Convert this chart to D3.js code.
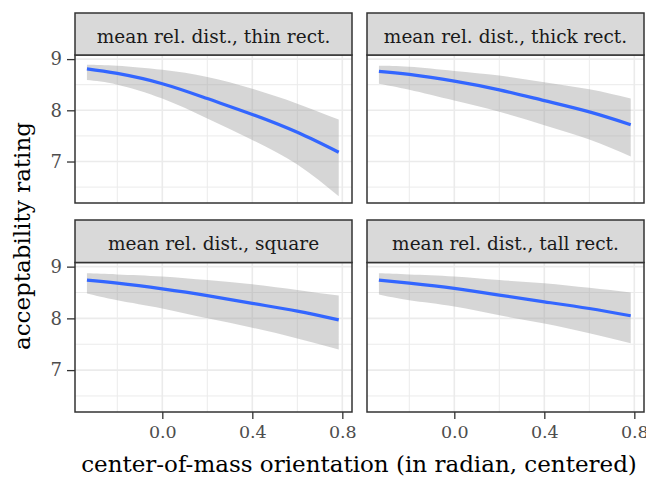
<!DOCTYPE html>
<html>
<head>
<meta charset="utf-8">
<script src="https://cdn.jsdelivr.net/npm/d3@7/dist/d3.min.js"></script>
<style>
  body { margin: 0; background: #fff; }
  svg { display: block; font-family: "DejaVu Serif", serif; }
</style>
</head>
<body>
<div id="viz"></div>
<script>
const orientation = [-0.335, -0.2, 0, 0.2, 0.4, 0.6, 0.784];

const facetTitles = [
  'mean rel. dist., thin rect.',
  'mean rel. dist., thick rect.',
  'mean rel. dist., square',
  'mean rel. dist., tall rect.'
];

const fitThin   = [8.81, 8.72, 8.52, 8.23, 7.92, 7.57, 7.18];
const lowThin   = [8.59, 8.50, 8.23, 7.84, 7.42, 6.94, 6.32];
const highThin  = [8.89, 8.87, 8.79, 8.65, 8.42, 8.13, 7.82];

const fitThick  = [8.76, 8.70, 8.57, 8.40, 8.19, 7.97, 7.72];
const lowThick  = [8.52, 8.40, 8.19, 7.97, 7.71, 7.43, 7.10];
const highThick = [8.87, 8.85, 8.77, 8.68, 8.55, 8.41, 8.23];

const fitSquare  = [8.74, 8.68, 8.57, 8.44, 8.29, 8.14, 7.97];
const lowSquare  = [8.48, 8.35, 8.19, 8.00, 7.82, 7.61, 7.40];
const highSquare = [8.87, 8.85, 8.81, 8.74, 8.66, 8.55, 8.44];

const fitTall  = [8.74, 8.68, 8.58, 8.45, 8.32, 8.19, 8.05];
const lowTall  = [8.46, 8.35, 8.23, 8.06, 7.90, 7.71, 7.52];
const highTall = [8.87, 8.85, 8.81, 8.74, 8.68, 8.59, 8.50];

const xTicks = [0, 0.4, 0.8];
const xMinor = [-0.2, 0.2, 0.6];
const yTicks = [7, 8, 9];
const yMinor = [6.5, 7.5, 8.5];

const series = [
  [fitThin, lowThin, highThin],
  [fitThick, lowThick, highThick],
  [fitSquare, lowSquare, highSquare],
  [fitTall, lowTall, highTall]
];

const width = 646, height = 479;
const cols = [[75, 352], [367, 644]];
const rows = [{ strip: 13, top: 55, bottom: 203 }, { strip: 220, top: 262.5, bottom: 412 }];

const svg = d3.select('#viz').append('svg')
  .attr('width', width)
  .attr('height', height);

facetTitles.forEach((title, i) => {
  const [x0, x1] = cols[i % 2];
  const row = rows[Math.floor(i / 2)];
  const [fit, low, high] = series[i];

  const x = d3.scaleLinear().domain([-0.388, 0.843]).range([x0, x1]);
  const y = d3.scaleLinear().domain([6.19, 9.08]).range([row.bottom, row.top]);

  const g = svg.append('g');

  // grid
  g.selectAll('.vminor').data(xMinor).join('line')
    .attr('x1', d => x(d)).attr('x2', d => x(d))
    .attr('y1', row.top).attr('y2', row.bottom)
    .attr('stroke', '#ebebeb').attr('stroke-width', 1);
  g.selectAll('.hminor').data(yMinor).join('line')
    .attr('y1', d => y(d)).attr('y2', d => y(d))
    .attr('x1', x0).attr('x2', x1)
    .attr('stroke', '#ebebeb').attr('stroke-width', 1);
  g.selectAll('.vmajor').data(xTicks).join('line')
    .attr('x1', d => x(d)).attr('x2', d => x(d))
    .attr('y1', row.top).attr('y2', row.bottom)
    .attr('stroke', '#ebebeb').attr('stroke-width', 1.6);
  g.selectAll('.hmajor').data(yTicks).join('line')
    .attr('y1', d => y(d)).attr('y2', d => y(d))
    .attr('x1', x0).attr('x2', x1)
    .attr('stroke', '#ebebeb').attr('stroke-width', 1.6);

  const pts = orientation.map((o, k) => ({ o, fit: fit[k], low: low[k], high: high[k] }));

  g.append('path')
    .datum(pts)
    .attr('fill', '#999999')
    .attr('fill-opacity', 0.4)
    .attr('d', d3.area()
      .curve(d3.curveNatural)
      .x(d => x(d.o))
      .y0(d => y(d.low))
      .y1(d => y(d.high)));

  g.append('path')
    .datum(pts)
    .attr('fill', 'none')
    .attr('stroke', '#3366FF')
    .attr('stroke-width', 3.2)
    .attr('d', d3.line()
      .curve(d3.curveNatural)
      .x(d => x(d.o))
      .y(d => y(d.fit)));

  // panel border
  g.append('rect')
    .attr('x', x0).attr('y', row.top)
    .attr('width', x1 - x0).attr('height', row.bottom - row.top)
    .attr('fill', 'none').attr('stroke', '#333').attr('stroke-width', 1.5);

  // strip
  g.append('rect')
    .attr('x', x0).attr('y', row.strip)
    .attr('width', x1 - x0).attr('height', row.top - row.strip)
    .attr('fill', '#d9d9d9').attr('stroke', '#333').attr('stroke-width', 1.5);
  g.append('text')
    .attr('x', (x0 + x1) / 2).attr('y', row.strip + 30)
    .attr('text-anchor', 'middle')
    .attr('font-size', 18.5)
    .attr('fill', '#1a1a1a')
    .text(title);

  if (i % 2 === 0) {
    const ax = g.append('g')
      .attr('transform', `translate(${x0},0)`)
      .call(d3.axisLeft(y).tickValues(yTicks).tickSize(8).tickPadding(5).tickFormat(d3.format('d')));
    ax.select('.domain').remove();
    ax.selectAll('line').attr('stroke', '#333').attr('stroke-width', 1.3);
    ax.selectAll('text').attr('font-family', '"DejaVu Serif", serif').attr('font-size', 18).attr('fill', '#4d4d4d');
  }
  if (i >= 2) {
    const ax = g.append('g')
      .attr('transform', `translate(0,${row.bottom})`)
      .call(d3.axisBottom(x).tickValues(xTicks).tickSize(7).tickPadding(7).tickFormat(d3.format('.1f')));
    ax.select('.domain').remove();
    ax.selectAll('line').attr('stroke', '#333').attr('stroke-width', 1.3);
    ax.selectAll('text').attr('font-family', '"DejaVu Serif", serif').attr('font-size', 17.5).attr('fill', '#4d4d4d');
  }
});

svg.append('text')
  .attr('x', 359).attr('y', 472)
  .attr('text-anchor', 'middle')
  .attr('font-size', 23)
  .attr('fill', '#000')
  .text('center-of-mass orientation (in radian, centered)');

svg.append('text')
  .attr('transform', 'translate(30,236) rotate(-90)')
  .attr('text-anchor', 'middle')
  .attr('font-size', 23)
  .attr('fill', '#000')
  .text('acceptability rating');
</script>
</body>
</html>
